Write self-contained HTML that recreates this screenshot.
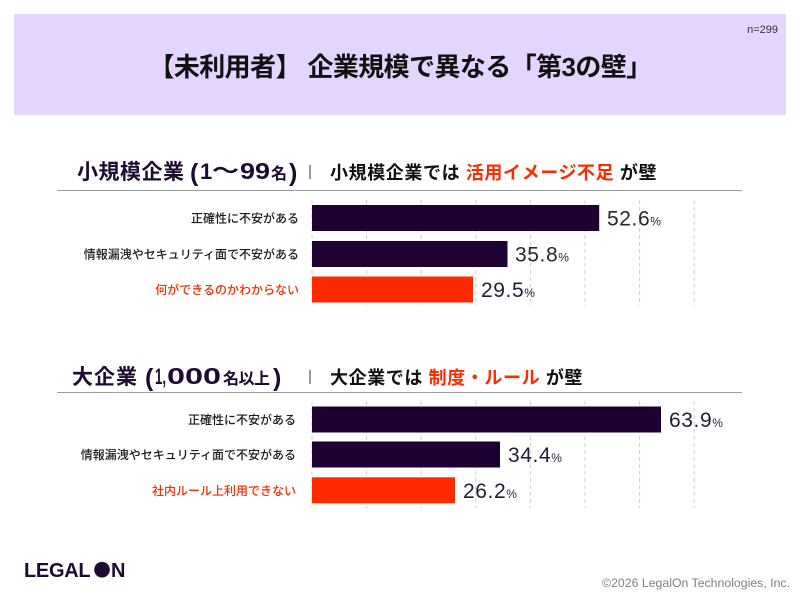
<!DOCTYPE html>
<html><head><meta charset="utf-8">
<style>
html,body{margin:0;padding:0;background:#fff;}
svg{display:block;}
.jp{font-family:"Liberation Sans","Noto Sans CJK JP",sans-serif;}
.num{font-family:"Liberation Sans",sans-serif;}
</style></head>
<body>
<svg width="799" height="600" viewBox="0 0 799 600" xmlns="http://www.w3.org/2000/svg">
  <rect x="0" y="0" width="799" height="600" fill="#ffffff"/>
  <!-- header -->
  <rect x="14" y="14" width="772" height="101" fill="#e3d5fd"/>
  <text x="778" y="33" text-anchor="end" class="num" font-size="11" fill="#333">n=299</text>
  <text x="400" y="76" text-anchor="middle" class="jp" font-size="26" font-weight="700" fill="#111" letter-spacing="-0.6">【未利用者】 企業規模で異なる「第3の壁」</text>

  <!-- section 1 heading -->
  <g fill="#1e0a33" font-weight="700">
    <text x="77" y="179" class="jp" font-size="21" textLength="107" lengthAdjust="spacing">小規模企業</text>
    <text x="190" y="181" class="num" font-size="25">(</text>
    <text x="200" y="179" class="num" font-size="22">1</text>
    <text x="212" y="178" class="jp" font-size="21" textLength="27" lengthAdjust="spacingAndGlyphs">〜</text>
    <text x="240" y="179" class="num" font-size="23" textLength="30" lengthAdjust="spacingAndGlyphs">99</text>
    <text x="271" y="179" class="jp" font-size="16">名</text>
    <text x="289" y="181" class="num" font-size="25">)</text>
  </g>
  <line x1="310" y1="165" x2="310" y2="179" stroke="#555" stroke-width="1.2"/>
  <text x="330" y="179" class="jp" font-size="18" font-weight="700" fill="#111" letter-spacing="0.6">小規模企業では <tspan fill="#ff2a00">活用イメージ不足</tspan> が壁</text>
  <line x1="57" y1="190.5" x2="742" y2="190.5" stroke="#9a9a9a" stroke-width="1"/>

  <!-- gridlines section 1 -->
  <g stroke="#cfcfcf" stroke-width="1" stroke-dasharray="4,3">
    <line x1="312" y1="200" x2="312" y2="306"/>
    <line x1="366.6" y1="200" x2="366.6" y2="306"/>
    <line x1="421.2" y1="200" x2="421.2" y2="306"/>
    <line x1="475.8" y1="200" x2="475.8" y2="306"/>
    <line x1="530.4" y1="200" x2="530.4" y2="306"/>
    <line x1="585" y1="200" x2="585" y2="306"/>
    <line x1="639.6" y1="200" x2="639.6" y2="306"/>
    <line x1="694.2" y1="200" x2="694.2" y2="306"/>
  </g>
  <!-- bars section 1 -->
  <rect x="312" y="205" width="287.2" height="26" fill="#1e0033"/>
  <rect x="312" y="241" width="195.5" height="26" fill="#1e0033"/>
  <rect x="312" y="276.5" width="161" height="26" fill="#ff2a00"/>

  <g class="jp" font-size="12" font-weight="500" text-anchor="end">
    <text x="299" y="222.5" fill="#1a1a1a">正確性に不安がある</text>
    <text x="299" y="258.5" fill="#1a1a1a">情報漏洩やセキュリティ面で不安がある</text>
    <text x="299" y="294" fill="#ff2a00">何ができるのかわからない</text>
  </g>

  <text x="607" y="225.6" class="num" font-size="21" fill="#2a2530" letter-spacing="0.6">52.6<tspan font-size="12">%</tspan></text>
  <text x="515" y="261.6" class="num" font-size="21" fill="#2a2530" letter-spacing="0.6">35.8<tspan font-size="12">%</tspan></text>
  <text x="481" y="297" class="num" font-size="21" fill="#261a3a" letter-spacing="0.6">29.5<tspan font-size="12">%</tspan></text>

  <!-- section 2 heading -->
  <g fill="#1e0a33" font-weight="700">
    <text x="72" y="384" class="jp" font-size="21" textLength="65" lengthAdjust="spacing">大企業</text>
    <text x="145" y="386" class="num" font-size="25">(</text>
    <text x="155" y="384" class="num" font-size="22" textLength="11" lengthAdjust="spacingAndGlyphs">1,</text>
    <text x="167" y="384" class="num" font-size="23" textLength="54" lengthAdjust="spacingAndGlyphs">000</text>
    <text x="223" y="384" class="jp" font-size="16" textLength="47" lengthAdjust="spacing">名以上</text>
    <text x="273" y="386" class="num" font-size="25">)</text>
  </g>
  <line x1="310" y1="370" x2="310" y2="384" stroke="#555" stroke-width="1.2"/>
  <text x="330" y="384" class="jp" font-size="18" font-weight="700" fill="#111" letter-spacing="0.6">大企業では <tspan fill="#ff2a00">制度・ルール</tspan> が壁</text>
  <line x1="57" y1="392.5" x2="742" y2="392.5" stroke="#9a9a9a" stroke-width="1"/>

  <!-- gridlines section 2 -->
  <g stroke="#cfcfcf" stroke-width="1" stroke-dasharray="4,3">
    <line x1="312" y1="401" x2="312" y2="508"/>
    <line x1="366.6" y1="401" x2="366.6" y2="508"/>
    <line x1="421.2" y1="401" x2="421.2" y2="508"/>
    <line x1="475.8" y1="401" x2="475.8" y2="508"/>
    <line x1="530.4" y1="401" x2="530.4" y2="508"/>
    <line x1="585" y1="401" x2="585" y2="508"/>
    <line x1="639.6" y1="401" x2="639.6" y2="508"/>
    <line x1="694.2" y1="401" x2="694.2" y2="508"/>
  </g>
  <!-- bars section 2 -->
  <rect x="312" y="406.5" width="349" height="26" fill="#1e0033"/>
  <rect x="312" y="441.5" width="188" height="26" fill="#1e0033"/>
  <rect x="312" y="477.3" width="143" height="26" fill="#ff2a00"/>

  <g class="jp" font-size="12" font-weight="500" text-anchor="end">
    <text x="296" y="424" fill="#1a1a1a">正確性に不安がある</text>
    <text x="296" y="459" fill="#1a1a1a">情報漏洩やセキュリティ面で不安がある</text>
    <text x="296" y="494.8" fill="#ff2a00">社内ルール上利用できない</text>
  </g>

  <text x="669" y="427" class="num" font-size="21" fill="#261a3a" letter-spacing="0.6">63.9<tspan font-size="12">%</tspan></text>
  <text x="508" y="462" class="num" font-size="21" fill="#261a3a" letter-spacing="0.6">34.4<tspan font-size="12">%</tspan></text>
  <text x="463" y="497.8" class="num" font-size="21" fill="#261a3a" letter-spacing="0.6">26.2<tspan font-size="12">%</tspan></text>

  <!-- footer -->
  <text x="24" y="577" class="num" font-size="20" font-weight="700" fill="#1e0a33" letter-spacing="-0.3">LEGAL</text>
  <circle cx="102" cy="569.7" r="7.8" fill="#1e0a33"/>
  <text x="111" y="577" class="num" font-size="20" font-weight="700" fill="#1e0a33">N</text>
  <text x="790" y="587" text-anchor="end" class="num" font-size="12.3" fill="#808080">©2026 LegalOn Technologies, Inc.</text>
</svg>
</body></html>
